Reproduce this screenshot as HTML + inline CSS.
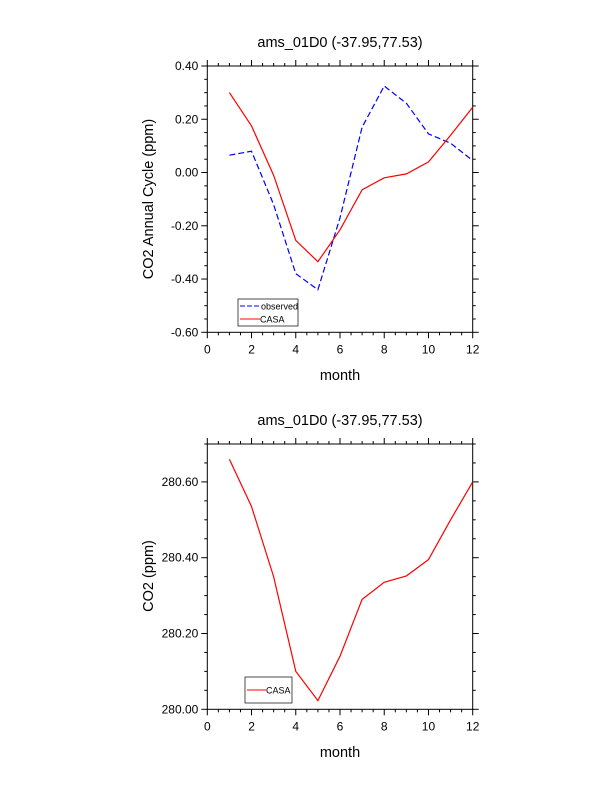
<!DOCTYPE html>
<html><head><meta charset="utf-8"><style>body{margin:0;background:#fff}svg{display:block}text{font-family:"Liberation Sans",Arial,sans-serif;fill:#000}</style></head>
<body>
<svg id="s" width="612" height="792" xmlns="http://www.w3.org/2000/svg">
<text x="340" y="47" font-size="14.5" text-anchor="middle">ams_01D0 (-37.95,77.53)</text>
<text x="340" y="425" font-size="14.5" text-anchor="middle">ams_01D0 (-37.95,77.53)</text>
<text transform="translate(153,199) rotate(-90)" font-size="14.5" text-anchor="middle">CO2 Annual Cycle (ppm)</text>
<text transform="translate(153,576) rotate(-90)" font-size="14.5" text-anchor="middle">CO2 (ppm)</text>
<text x="340" y="380" font-size="14.5" text-anchor="middle">month</text>
<text x="340" y="757" font-size="14.5" text-anchor="middle">month</text>
<g id="g"></g>
</svg>
<script>
var g=document.getElementById('g'),out='';
var X0=207.3,X1=472.7;
function xm(m){return X0+m*(X1-X0)/12;}
function frame(top,bot,vmin,vmax,labels,minorStep){
 var sy=function(v){return bot-(v-vmin)/(vmax-vmin)*(bot-top);};
 out+='<rect x="'+X0+'" y="'+top+'" width="'+(X1-X0)+'" height="'+(bot-top)+'" fill="none" stroke="#000" stroke-width="1"/>';
 for(var m=0;m<=12;m+=0.5){var x=xm(m),L=(m%2==0)?6:3;
  out+='<line x1="'+x+'" y1="'+bot+'" x2="'+x+'" y2="'+(bot+L)+'" stroke="#000"/>';
  out+='<line x1="'+x+'" y1="'+top+'" x2="'+x+'" y2="'+(top-L)+'" stroke="#000"/>';
  if(m%2==0) out+='<text x="'+x+'" y="'+(bot+21)+'" font-size="12" text-anchor="middle">'+m+'</text>';}
 for(var v=vmin;v<=vmax+1e-9;v+=minorStep){var y=sy(v);var maj=labels.some(function(l){return Math.abs(l[0]-v)<1e-6});var L=maj?6:3;
  out+='<line x1="'+X0+'" y1="'+y+'" x2="'+(X0-L)+'" y2="'+y+'" stroke="#000"/>';
  out+='<line x1="'+X1+'" y1="'+y+'" x2="'+(X1+L)+'" y2="'+y+'" stroke="#000"/>';}
 labels.forEach(function(l){out+='<text x="'+(X0-9)+'" y="'+(sy(l[0])+4)+'" font-size="12" text-anchor="end">'+l[1]+'</text>';});
 return sy;}
function line(sy,d,col,dash){var p=d.map(function(v,i){return xm(i+1).toFixed(1)+','+sy(v).toFixed(1)}).join(' ');
 out+='<polyline points="'+p+'" fill="none" stroke="'+col+'" stroke-width="1.2"'+(dash?' stroke-dasharray="6,3"':'')+'/>';}
var s1=frame(66,332.3,-0.6,0.4,[[-0.6,'-0.60'],[-0.4,'-0.40'],[-0.2,'-0.20'],[0,'0.00'],[0.2,'0.20'],[0.4,'0.40']],0.05);
line(s1,[0.065,0.08,-0.12,-0.38,-0.44,-0.17,0.17,0.325,0.26,0.145,0.11,0.045],'#0000ff',true);
line(s1,[0.30,0.175,-0.01,-0.255,-0.335,-0.215,-0.065,-0.02,-0.005,0.04,0.14,0.245],'#ff0000',false);
out+='<rect x="238" y="299" width="60" height="27" fill="#fff" stroke="#000" stroke-width="0.7"/>';
out+='<line x1="240" y1="306" x2="261" y2="306" stroke="#0000ff" stroke-dasharray="5,2"/><text x="261" y="309.5" font-size="9">observed</text>';
out+='<line x1="240" y1="319" x2="260" y2="319" stroke="#ff0000"/><text x="260" y="322.5" font-size="9">CASA</text>';
var s2=frame(444,709.3,280.0,280.7,[[280.0,'280.00'],[280.2,'280.20'],[280.4,'280.40'],[280.6,'280.60']],0.05);
line(s2,[280.66,280.535,280.35,280.10,280.023,280.14,280.29,280.335,280.352,280.395,280.50,280.60],'#ff0000',false);
out+='<rect x="245" y="677" width="47" height="26" fill="#fff" stroke="#000" stroke-width="0.7"/>';
out+='<line x1="247" y1="690" x2="266" y2="690" stroke="#ff0000"/><text x="266" y="693.5" font-size="9">CASA</text>';
g.innerHTML=out;
</script>
</body></html>
